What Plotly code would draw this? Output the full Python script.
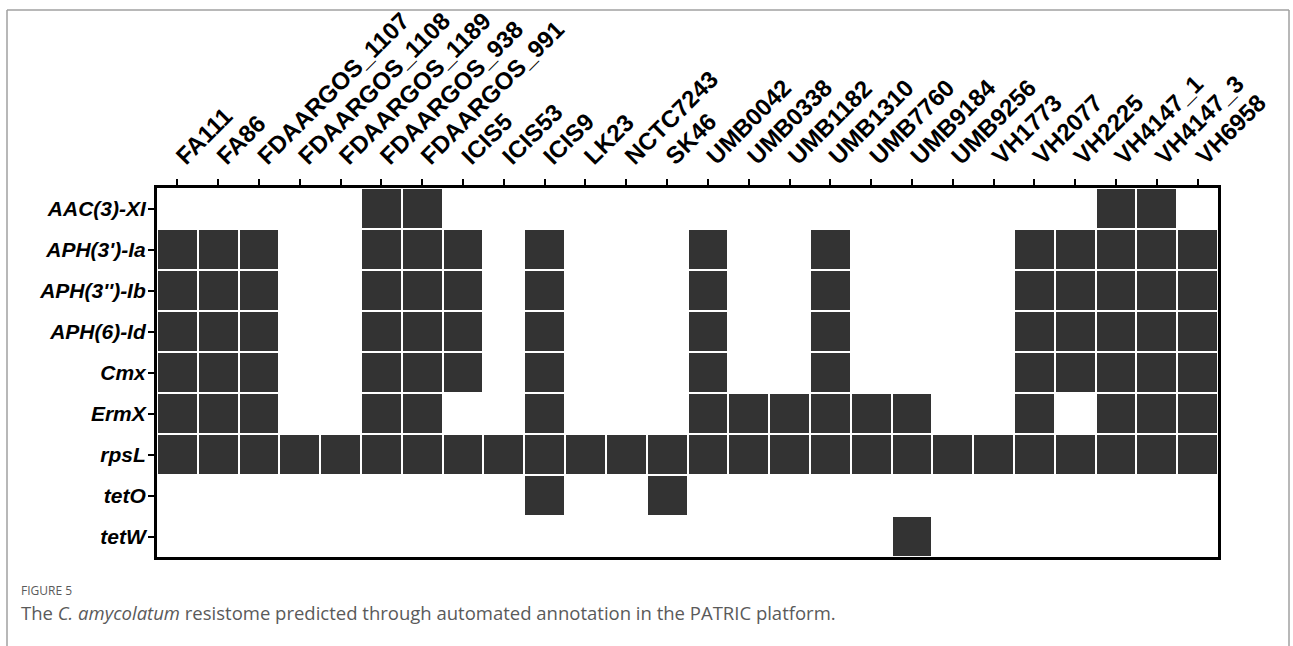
import plotly.graph_objects as go

# Strains (columns) and resistance genes (rows)
strains = [
    "FA111", "FA86", "FDAARGOS_1107", "FDAARGOS_1108", "FDAARGOS_1189",
    "FDAARGOS_938", "FDAARGOS_991", "ICIS5", "ICIS53", "ICIS9", "LK23",
    "NCTC7243", "SK46", "UMB0042", "UMB0338", "UMB1182", "UMB1310",
    "UMB7760", "UMB9184", "UMB9256", "VH1773", "VH2077", "VH2225",
    "VH4147_1", "VH4147_3", "VH6958",
]
genes = ["AAC(3)-XI", "APH(3')-Ia", "APH(3'')-Ib", "APH(6)-Id", "Cmx",
         "ErmX", "rpsL", "tetO", "tetW"]

# Strains carrying each gene
aac3_xi = ["FDAARGOS_938", "FDAARGOS_991", "VH4147_1", "VH4147_3"]
aph3_ia = ["FA111", "FA86", "FDAARGOS_1107", "FDAARGOS_938", "FDAARGOS_991",
           "ICIS5", "ICIS9", "UMB0042", "UMB1310", "VH2077", "VH2225",
           "VH4147_1", "VH4147_3", "VH6958"]
aph3_ib = ["FA111", "FA86", "FDAARGOS_1107", "FDAARGOS_938", "FDAARGOS_991",
           "ICIS5", "ICIS9", "UMB0042", "UMB1310", "VH2077", "VH2225",
           "VH4147_1", "VH4147_3", "VH6958"]
aph6_id = ["FA111", "FA86", "FDAARGOS_1107", "FDAARGOS_938", "FDAARGOS_991",
           "ICIS5", "ICIS9", "UMB0042", "UMB1310", "VH2077", "VH2225",
           "VH4147_1", "VH4147_3", "VH6958"]
cmx = ["FA111", "FA86", "FDAARGOS_1107", "FDAARGOS_938", "FDAARGOS_991",
       "ICIS5", "ICIS9", "UMB0042", "UMB1310", "VH2077", "VH2225",
       "VH4147_1", "VH4147_3", "VH6958"]
ermx = ["FA111", "FA86", "FDAARGOS_1107", "FDAARGOS_938", "FDAARGOS_991",
        "ICIS9", "UMB0042", "UMB0338", "UMB1182", "UMB1310", "UMB7760",
        "UMB9184", "VH2077", "VH4147_1", "VH4147_3", "VH6958"]
rpsl = list(strains)
teto = ["ICIS9", "SK46"]
tetw = ["UMB9184"]

presence = [aac3_xi, aph3_ia, aph3_ib, aph6_id, cmx, ermx, rpsl, teto, tetw]

z = [[1 if s in carriers else None for s in strains] for carriers in presence]

fig = go.Figure(
    go.Heatmap(
        x=strains,
        y=genes,
        z=z,
        zmin=0,
        zmax=1,
        colorscale=[[0, "#333333"], [1, "#333333"]],
        showscale=False,
        xgap=2,
        ygap=2,
        hoverongaps=False,
    )
)

common_axis = dict(
    type="category",
    ticks="outside",
    ticklen=6,
    tickwidth=2,
    tickcolor="black",
    showline=True,
    linewidth=3,
    linecolor="black",
    mirror=True,
    showgrid=False,
    zeroline=False,
    automargin=False,
)

fig.update_xaxes(
    side="top",
    tickangle=-45,
    tickfont=dict(family="Liberation Sans, Arial, sans-serif", size=24, color="black"),
    tickvals=strains,
    ticktext=[f"<b>{s}</b>" for s in strains],
    **common_axis,
)
fig.update_yaxes(
    autorange="reversed",
    tickfont=dict(family="Liberation Sans, Arial, sans-serif", size=21, color="black"),
    tickvals=genes,
    ticktext=[f"<b><i>{g}</i></b>" for g in genes],
    ticklabelstandoff=-2,
    **common_axis,
)

# Figure caption below the panel
fig.add_annotation(
    text="FIGURE 5",
    xref="paper", yref="paper",
    x=(19 - 157) / 1061, y=-(580 - 557) / 369,
    xanchor="left", yanchor="top",
    showarrow=False,
    font=dict(family="Open Sans, sans-serif", size=12, color="#5a5a5a"),
)
fig.add_annotation(
    text="The <i>C. amycolatum</i> resistome predicted through automated annotation in the PATRIC platform.",
    xref="paper", yref="paper",
    x=(19 - 157) / 1061, y=-(598 - 557) / 369,
    xanchor="left", yanchor="top",
    showarrow=False,
    font=dict(family="Open Sans, sans-serif", size=18.5, color="#5a5a5a"),
)

# Thin grey page frame
frame = dict(type="line", xref="paper", yref="paper",
             line=dict(color="#a0a0a0", width=1.5), layer="below")
fx0 = (7 - 157) / 1061
fx1 = (1289 - 157) / 1061
fy_top = (557 - 10) / 369
fy_bot = (557 - 660) / 369
fig.add_shape(x0=fx0, x1=fx1, y0=fy_top, y1=fy_top, **frame)
fig.add_shape(x0=fx0, x1=fx0, y0=fy_top, y1=fy_bot, **frame)
fig.add_shape(x0=fx1, x1=fx1, y0=fy_top, y1=fy_bot, **frame)

fig.update_layout(
    width=1293,
    height=646,
    margin=dict(l=157, r=1293 - 1218, t=188, b=646 - 557, pad=0, autoexpand=False),
    paper_bgcolor="white",
    plot_bgcolor="white",
)

fig.write_html("out.html")
